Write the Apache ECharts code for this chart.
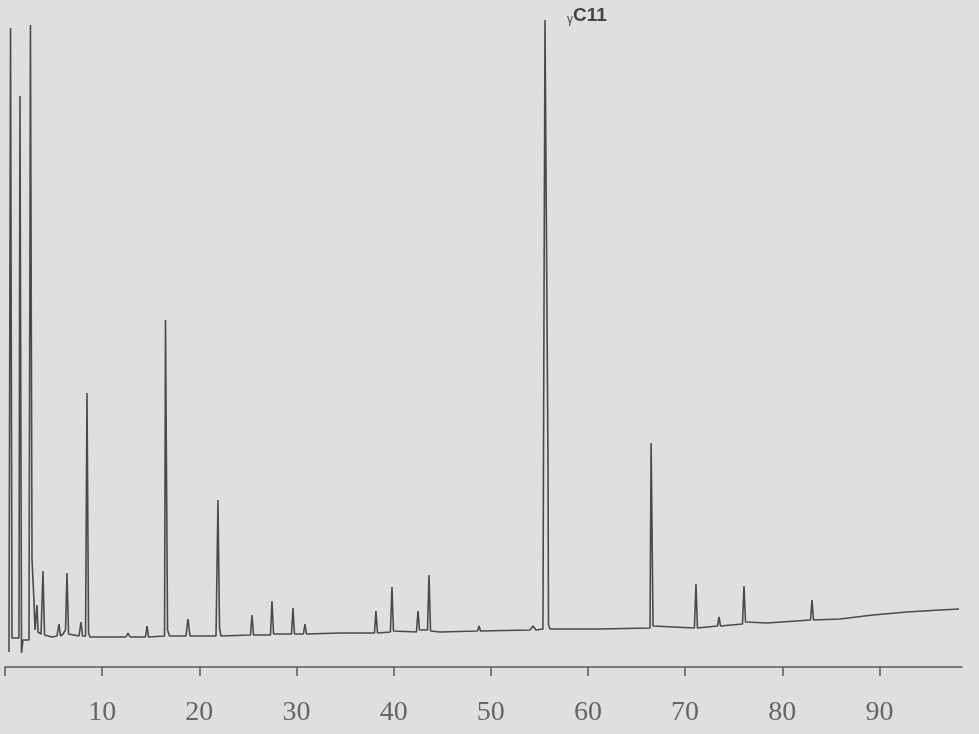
<!DOCTYPE html>
<html>
<head>
<meta charset="utf-8">
<script src="https://cdn.jsdelivr.net/npm/echarts@6/dist/echarts.min.js"></script>
<style>
html,body{margin:0;padding:0;background:#dfdfdf;}
#chart{width:979px;height:734px;}
</style>
</head>
<body>
<div id="chart"></div>
<script>
// retention time (min) and detector response (arbitrary units)
const times = [
  0.41,0.57,0.72,1.44,1.54,1.70,1.85,2.47,2.62,2.70,2.78,2.98,3.09,3.29,3.40,3.71,3.91,4.07,
  4.84,5.35,5.56,5.71,5.97,6.23,6.38,6.54,6.69,7.62,7.82,7.98,8.29,8.44,8.60,8.75,
  12.45,12.66,12.87,14.46,14.62,14.77,16.42,16.52,16.62,16.73,16.93,18.63,18.83,19.04,
  21.72,21.92,22.08,22.23,25.27,25.42,25.58,27.33,27.48,27.64,29.49,29.64,29.79,
  30.72,30.88,31.03,34.48,38.03,38.18,38.34,39.67,39.83,39.98,42.35,42.51,42.66,
  43.49,43.64,43.80,44.77,48.63,48.79,48.94,54.03,54.34,54.65,55.37,55.42,55.58,55.73,
  55.89,55.94,56.10,61.24,66.39,66.50,66.60,66.70,66.90,70.96,71.12,71.27,73.33,73.49,
  73.64,75.91,76.06,76.22,76.37,78.43,82.91,83.06,83.22,85.94,89.34,92.84,96.23,98.19
];
const signal = [
  15,639,29,29,571,14,27,27,642,642,107,67,37,62,35,33,96,32,
  30,31,43,31,33,37,94,33,31,31,45,31,31,274,34,30,
  30,34,30,30,41,30,31,347,347,37,31,31,48,31,
  31,167,39,31,32,52,32,32,66,33,33,59,33,
  33,43,33,34,34,56,34,35,80,36,35,56,37,
  37,92,36,35,36,41,36,37,41,37,38,197,647,647,
  202,42,38,38,39,224,224,41,39,39,83,39,41,50,
  41,43,81,45,43,44,47,67,47,48,52,55,57,58
];
const tickValues = [0,10,20,30,40,50,60,70,80,90];
const tickLabels = [10,20,30,40,50,60,70,80,90];
const peakName = 'C11';
const peakTime = 55.58;
const peakSignal = 647;

const chart = echarts.init(document.getElementById('chart'));
chart.setOption({
  backgroundColor: '#dfdfdf',
  animation: false,
  grid: {left: 5, right: 17, top: 20, bottom: 67},
  xAxis: {
    type: 'value', min: 0, max: 98.5,
    axisLine: {lineStyle: {color: '#5a5a5a', width: 1.5}},
    axisTick: {customValues: tickValues, length: 9, lineStyle: {color: '#5a5a5a', width: 1.5}},
    axisLabel: {customValues: tickLabels, margin: 32, fontFamily: 'Liberation Serif',
      fontSize: 28, color: '#666'},
    splitLine: {show: false}
  },
  yAxis: {type: 'value', min: 0, max: 647, show: false},
  series: [{
    type: 'line',
    data: times.map((t, i) => [t, signal[i]]),
    showSymbol: false,
    symbol: 'none',
    sampling: false,
    lineStyle: {color: '#4a4a4a', width: 1.6},
    markPoint: {
      symbol: 'circle', symbolSize: 0,
      data: [{coord: [peakTime, peakSignal]}],
      label: {
        show: true, position: [22, -14], verticalAlign: 'top', align: 'left',
        formatter: '{g|γ}{c|' + peakName + '}',
        rich: {
          g: {fontFamily: 'Liberation Sans', fontSize: 12, color: '#444', verticalAlign: 'bottom', padding: [8,0,0,0]},
          c: {fontFamily: 'Liberation Sans', fontSize: 19, fontWeight: 'bold', color: '#444'}
        }
      }
    }
  }]
});
</script>
</body>
</html>
